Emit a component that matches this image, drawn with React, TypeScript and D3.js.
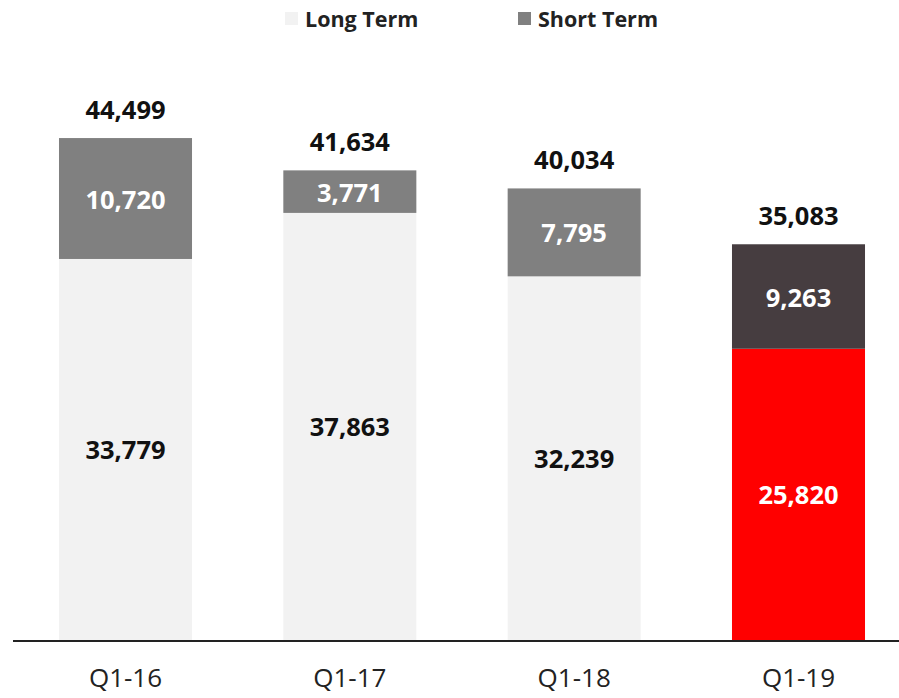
import React, { useEffect, useRef } from 'react';
import * as d3 from 'd3';

const categories = ['Q1-16', 'Q1-17', 'Q1-18', 'Q1-19'];
const longTerm = [33779, 37863, 32239, 25820];
const shortTerm = [10720, 3771, 7795, 9263];
const totals = [44499, 41634, 40034, 35083];

const width = 899;
const height = 698;

const App = () => {
    const chartRef = useRef<SVGSVGElement>(null);

    useEffect(() => {
        const svg = d3.select(chartRef.current);
        svg.selectAll('*').remove();

        const font = '"Open Sans", sans-serif';
        const baseline = 640;

        const x = d3.scaleBand()
            .domain(categories)
            .range([13, 911])
            .paddingInner(0.407)
            .paddingOuter(0.205);

        const y = d3.scaleLinear()
            .domain([0, 50000])
            .range([baseline, 76]);

        const fmt = d3.format(',');
        const last = categories.length - 1;
        const longColor = (i: number) => (i === last ? '#ff0000' : '#f2f2f2');
        const shortColor = (i: number) => (i === last ? '#463d40' : '#808080');

        const rows = categories.map((c, i) => ({ c, i, lt: longTerm[i], st: shortTerm[i], tot: totals[i] }));

        // long term segments
        svg.selectAll('.long')
            .data(rows)
            .enter().append('rect')
            .attr('x', d => x(d.c)!)
            .attr('y', d => y(d.lt))
            .attr('width', x.bandwidth())
            .attr('height', d => baseline - y(d.lt))
            .attr('fill', d => longColor(d.i));

        // short term segments
        svg.selectAll('.short')
            .data(rows)
            .enter().append('rect')
            .attr('x', d => x(d.c)!)
            .attr('y', d => y(d.lt + d.st))
            .attr('width', x.bandwidth())
            .attr('height', d => y(d.lt) - y(d.lt + d.st))
            .attr('fill', d => shortColor(d.i));

        const label = (sel: any) => sel
            .attr('text-anchor', 'middle')
            .attr('dominant-baseline', 'central')
            .attr('font-family', font)
            .attr('font-weight', 700)
            .attr('font-size', 25.5);

        svg.selectAll('.ltLabel')
            .data(rows)
            .enter().append('text')
            .call(label)
            .attr('x', d => x(d.c)! + x.bandwidth() / 2)
            .attr('y', d => (y(0) + y(d.lt)) / 2)
            .attr('fill', d => (d.i === last ? '#ffffff' : '#111111'))
            .text(d => fmt(d.lt));

        svg.selectAll('.stLabel')
            .data(rows)
            .enter().append('text')
            .call(label)
            .attr('x', d => x(d.c)! + x.bandwidth() / 2)
            .attr('y', d => (y(d.lt) + y(d.lt + d.st)) / 2)
            .attr('fill', '#ffffff')
            .text(d => fmt(d.st));

        svg.selectAll('.totLabel')
            .data(rows)
            .enter().append('text')
            .call(label)
            .attr('dominant-baseline', 'auto')
            .attr('x', d => x(d.c)! + x.bandwidth() / 2)
            .attr('y', d => y(d.tot) - 19)
            .attr('fill', '#111111')
            .text(d => fmt(d.tot));

        // category axis
        const axis = svg.append('g')
            .attr('transform', `translate(0, ${baseline + 1})`)
            .call(d3.axisBottom(x).tickSize(0).tickPadding(28));
        axis.select('.domain')
            .attr('d', `M13,0H899`)
            .attr('stroke', '#222222')
            .attr('stroke-width', 2);
        axis.selectAll('text')
            .attr('font-family', font)
            .attr('font-size', 26)
            .attr('fill', '#222222');

        // legend
        const legend = [
            { name: 'Long Term', color: '#f2f2f2', x: 285 },
            { name: 'Short Term', color: '#808080', x: 518 },
        ];
        const lg = svg.selectAll('.legend')
            .data(legend)
            .enter().append('g')
            .attr('transform', d => `translate(${d.x}, 12)`);
        lg.append('rect')
            .attr('width', 13)
            .attr('height', 13)
            .attr('fill', d => d.color);
        lg.append('text')
            .attr('x', 20)
            .attr('y', 14.5)
            .attr('font-family', font)
            .attr('font-weight', 700)
            .attr('font-size', 21.5)
            .attr('fill', '#222222')
            .text(d => d.name);
    }, []);

    return (
        <svg ref={chartRef} width={width} height={height}
            style={{ position: 'absolute', left: 0, top: 0 }}></svg>
    );
};

export default App;
